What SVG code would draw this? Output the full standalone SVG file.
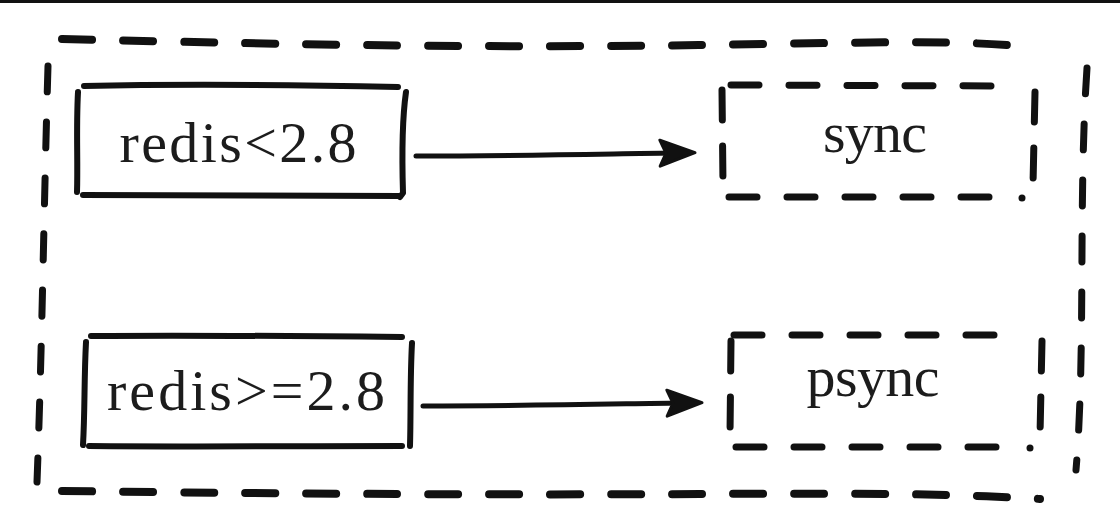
<svg xmlns="http://www.w3.org/2000/svg" width="1120" height="518" viewBox="0 0 1120 518">
  <style>
    .ink{fill:none;stroke:#111;stroke-linecap:round;stroke-linejoin:round}
    .solid{stroke-width:6}
    .outer{stroke-width:8;stroke-dasharray:30 31}
    .outerv{stroke-width:7;stroke-dasharray:26 30}
    .dash{stroke-width:7;stroke-dasharray:28 30}
    .dashv{stroke-width:7;stroke-dasharray:30 26}
    .lbl{font-family:"Liberation Serif","Times New Roman",serif;fill:#1c1c1c;text-anchor:middle}
    .conn{fill:none;stroke:#111;stroke-width:5;stroke-linecap:round}
  </style>
  <defs>
    <marker id="arrow" viewBox="0 0 42 32" refX="15" refY="16" markerWidth="42" markerHeight="32" markerUnits="userSpaceOnUse" orient="auto">
      <path d="M4,3 L39,16 L4,29 L10,16 z" fill="#111" stroke="#111" stroke-width="3" stroke-linejoin="round"/>
    </marker>
  </defs>
  <rect width="1120" height="518" fill="#fff"/>
  <rect x="0" y="0" width="1120" height="3" fill="#111"/>

  <g id="frame">
    <path class="ink outer" d="M62,39 C300,45 500,48 700,45 S950,40 1036,47"/>
    <path class="ink outer" d="M62,491 C300,494 500,495 700,494 S950,494 1040,499"/>
    <path class="ink outerv" d="M48,66 C44,200 42,350 37,482"/>
    <path class="ink outerv" d="M1087,68 C1078,200 1086,350 1076,470"/>
  </g>

  <g id="node-redis-lt">
    <path class="ink solid" d="M84,86 C180,84 300,85 398,87"/>
    <path class="ink solid" d="M78,92 C76,130 78,160 77,192"/>
    <path class="ink solid" d="M83,195 C180,196 300,195 400,196"/>
    <path class="ink solid" d="M406,92 C402,120 402,160 403,193 L400,197"/>
    <text class="lbl" x="238" y="162" font-size="58" textLength="237">redis&lt;2.8</text>
  </g>

  <g id="node-redis-ge">
    <path class="ink solid" d="M91,336 C190,335 300,336 402,337"/>
    <path class="ink solid" d="M86,342 C84,380 85,410 83,445"/>
    <path class="ink solid" d="M89,446 C190,447 300,446 402,446"/>
    <path class="ink solid" d="M412,343 C410,380 411,410 410,446"/>
    <text class="lbl" x="246" y="410" font-size="58" textLength="278">redis&gt;=2.8</text>
  </g>

  <g id="node-sync">
    <path class="ink dash" d="M731,85 L1008,86"/>
    <path class="ink dash" d="M729,197 L996,197"/>
    <path class="ink dashv" d="M722,90 L723,185"/>
    <path class="ink dashv" d="M1035,92 L1033,185"/>
    <circle cx="1022" cy="198" r="3.5" fill="#111"/>
    <text class="lbl" x="875" y="152" font-size="58" textLength="104">sync</text>
  </g>

  <g id="node-psync">
    <path class="ink dash" d="M734,335 L1014,335"/>
    <path class="ink dash" d="M736,447 L1003,447"/>
    <path class="ink dashv" d="M731,341 L730,435"/>
    <path class="ink dashv" d="M1042,341 L1040,435"/>
    <circle cx="1030" cy="448" r="3.5" fill="#111"/>
    <text class="lbl" x="873" y="396" font-size="58" textLength="133">psync</text>
  </g>

  <g id="connectors">
    <path class="conn" d="M416,156 C520,156 600,154 671,153" marker-end="url(#arrow)"/>
    <path class="conn" d="M423,406 C530,406 610,404 678,403" marker-end="url(#arrow)"/>
  </g>
</svg>
